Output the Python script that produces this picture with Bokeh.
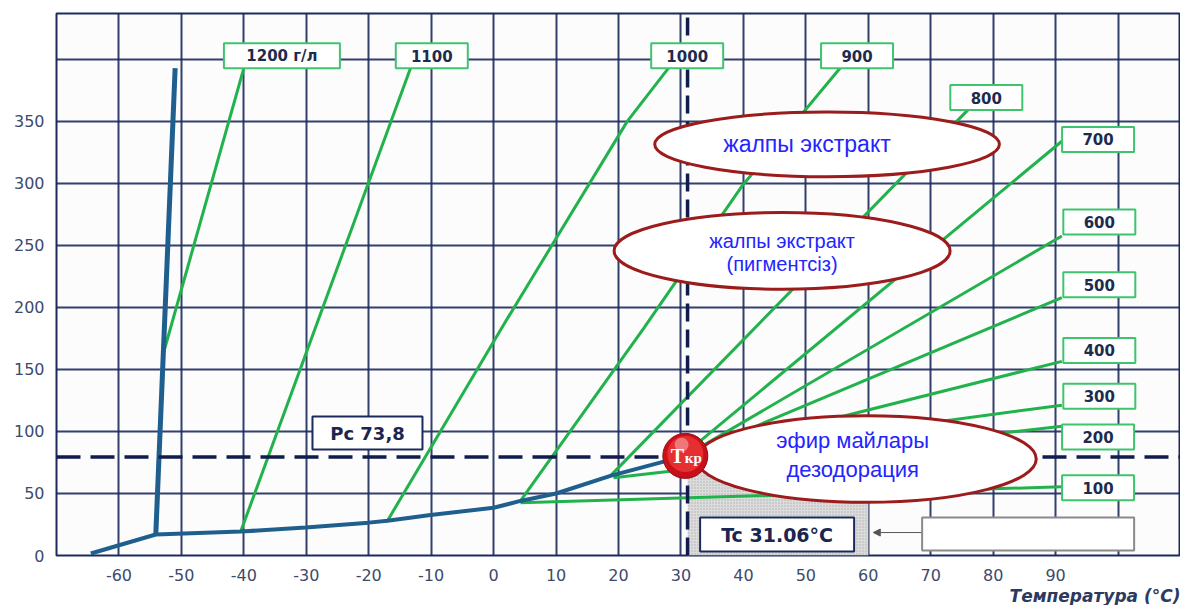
from bokeh.plotting import figure
from bokeh.models import FixedTicker, Title, Arrow, NormalHead, ColumnDataSource
from bokeh.core.properties import value
from bokeh.embed import file_html
from bokeh.resources import INLINE

# ---------------- data ----------------
# saturation (vapour pressure) curve, temperature °C / pressure
sat_T = [-64.5, -54.1, -40.5, -30.1, -20.0, -17.0, -10.1, 0.0, 4.3, 10.0, 18.7, 30.7]
sat_P = [1.6, 16.9, 19.3, 22.5, 26.5, 28.0, 32.6, 38.5, 44.0, 50.0, 64.2, 80.3]
# melting line
melt_T = [-54.1, -51.0]
melt_P = [16.9, 393.0]

# isochores (density lines)
iso_names = ["1200 г/л", "1100", "1000", "900", "800", "700",
             "600", "500", "400", "300", "200", "100"]
iso_T = [
    [-52.8, -40.0],
    [-40.5, -13.3],
    [-17.0, 2.2, 21.4, 28.0],
    [4.3, 24.0, 39.8, 55.5],
    [18.7, 76.0],
    [30.6, 91.0],
    [30.7, 91.0],
    [30.7, 91.0],
    [30.7, 91.0],
    [30.7, 91.0],
    [19.2, 91.0],
    [4.3, 91.0],
]
iso_P = [
    [164.5, 393.0],
    [19.3, 393.0],
    [28.0, 191.0, 350.0, 393.0],
    [44.0, 183.0, 298.0, 393.0],
    [64.2, 359.5],
    [82.0, 334.0],
    [80.3, 257.6],
    [80.3, 207.9],
    [80.3, 156.5],
    [80.3, 121.2],
    [62.6, 104.3],
    [42.5, 55.4],
]
# label-box anchor points for the isochores
lab_T = [-33.9, -9.9, 31.0, 58.2, 78.9, 96.8, 97.0, 97.0, 97.0, 97.0, 96.8, 96.8]
lab_P = [402.9, 402.9, 402.9, 402.9, 369.2, 335.5, 268.9, 218.3, 165.3, 128.4, 95.5, 54.6]

# critical point
Tc = 31.06
Tc_text = "Tc 31.06°C"
Pc_text = "Pc 73,8"
Pc_line = 79.5
Tkr_T = 30.7
Tkr_P = 80.3

# region ellipses
ell_T = [53.4, 46.2, 59.7]
ell_P = [331.5, 245.6, 77.8]
ell_W = [55.2, 53.8, 54.4]
ell_H = [52.2, 61.8, 69.8]

x_ticks = list(range(-70, 101, 10))
y_ticks = list(range(0, 401, 50))
x_labels = {t: ("" if t in (-70, 100) else str(t)) for t in x_ticks}
y_labels = {t: ("" if t == 400 else str(t)) for t in y_ticks}
x_min, x_max = -70, 110
y_min, y_max = 0, 437

NAVY = "#1c2b5c"
GREEN = "#22b24c"
BLUE = "#1f5f8e"
TXT = "#3c4a6c"

p = figure(width=1180, height=605, x_range=(x_min, x_max), y_range=(y_min, y_max),
           output_backend="svg", toolbar_location=None,
           min_border_left=56, min_border_right=0, min_border_top=13, min_border_bottom=47)
p.background_fill_color = "#fcfcfd"
p.border_fill_color = "white"
p.outline_line_color = NAVY
p.outline_line_width = 2

for ax, ticks, ov in ((p.xaxis, x_ticks, x_labels), (p.yaxis, y_ticks, y_labels)):
    ax.ticker = FixedTicker(ticks=ticks)
    ax.major_label_overrides = ov
    ax.major_tick_line_color = None
    ax.minor_tick_line_color = None
    ax.axis_line_color = None
    ax.major_label_text_font = "DejaVu Sans"
    ax.major_label_text_font_size = "16px"
    ax.major_label_text_color = TXT
p.xaxis.major_label_standoff = 7
p.yaxis.major_label_standoff = 6

p.grid.grid_line_color = NAVY
p.grid.grid_line_width = 2
p.grid.grid_line_alpha = 0.9

# axis title (bottom right)
p.add_layout(Title(text="Температура (°C)", align="right", standoff=0,
                   text_font="DejaVu Sans", text_font_style="bold italic",
                   text_font_size="17px", text_color="#2c3a60"), "below")

# grey supercritical zone under the critical point
p.quad(left=[Tc], right=[60], bottom=[0], top=[Pc_line - 6], fill_color="#dcdcdc",
       hatch_pattern="dot", hatch_color="#9a9a9a", hatch_scale=3, hatch_alpha=0.7,
       line_color=None)

# isochores
for T, P in zip(iso_T, iso_P):
    p.line(T, P, line_color=GREEN, line_width=3)

# phase curves
p.line(sat_T, sat_P, line_color=BLUE, line_width=4)
p.line(melt_T, melt_P, line_color=BLUE, line_width=5)

# dashed critical lines
p.line([x_min, x_max], [Pc_line, Pc_line], line_color="#0f1c4d", line_width=3.5, line_dash="24 10")
p.line([Tc, Tc], [y_min, y_max], line_color="#0f1c4d", line_width=3.5, line_dash="18 8")

# isochore label boxes
box_w = [116] + [72] * 11
src = ColumnDataSource(dict(x=lab_T, y=lab_P, w=box_w, t=iso_names))
p.rect(x="x", y="y", width="w", height=25, width_units="screen", height_units="screen",
       source=src, fill_color="white", line_color="#3fc46e", line_width=2)
p.text(x="x", y="y", text="t", source=src, text_align="center", text_baseline="middle",
       text_font=value("DejaVu Sans"), text_font_style="bold", text_font_size="15px",
       text_color="#1d2b4f")

# ellipses
p.ellipse(x=ell_T, y=ell_P, width=ell_W, height=ell_H, fill_color="white",
          line_color="#9c1b1b", line_width=3)
ELL_BLUE = "#2424ff"
p.text(x=[50.7], y=[331.5], text=["жалпы  экстракт"], text_align="center", text_baseline="middle",
       text_font=value("Liberation Sans"), text_font_size="23px", text_color=ELL_BLUE)
p.text(x=[46.2, 46.2], y=[253.5, 235.0], text=["жалпы экстракт", "(пигментсіз)"],
       text_align="center", text_baseline="middle",
       text_font=value("Liberation Sans"), text_font_size="20px", text_color=ELL_BLUE)
p.text(x=[57.5, 57.5], y=[93.0, 69.0], text=["эфир майлары", "дезодорация"],
       text_align="center", text_baseline="middle",
       text_font=value("Liberation Sans"), text_font_size="22px", text_color=ELL_BLUE)

# critical point marker
p.scatter([Tkr_T], [Tkr_P], size=45, fill_color="#c8101a", line_color="#9a0a10", line_width=1)
p.scatter([Tkr_T], [Tkr_P + 1.5], size=36, fill_color="#f03a3a", line_color=None, fill_alpha=0.75)
p.scatter([Tkr_T - 0.6], [Tkr_P + 9], marker="circle", size=14, fill_color="white",
          line_color=None, fill_alpha=0.35)
p.text(x=[Tkr_T], y=[Tkr_P], text=["T"], x_offset=-8, text_align="center", text_baseline="middle",
       text_font=value("Liberation Serif"), text_font_style="bold", text_font_size="20px",
       text_color="white")
p.text(x=[Tkr_T], y=[Tkr_P], text=["кр"], x_offset=8, y_offset=2, text_align="center",
       text_baseline="middle", text_font=value("Liberation Serif"), text_font_style="bold",
       text_font_size="15px", text_color="white")

# Pc and Tc boxes
p.rect(x=[-20.2], y=[98.7], width=110, height=33, width_units="screen", height_units="screen",
       fill_color="white", line_color=NAVY, line_width=2)
p.text(x=[-20.2], y=[98.7], text=[Pc_text], text_align="center", text_baseline="middle",
       text_font=value("DejaVu Sans"), text_font_style="bold", text_font_size="18px",
       text_color="#1a2550")
p.rect(x=[45.4], y=[16.9], width=154, height=34, width_units="screen", height_units="screen",
       fill_color="white", line_color=NAVY, line_width=2)
p.text(x=[45.4], y=[16.9], text=[Tc_text], text_align="center", text_baseline="middle",
       text_font=value("DejaVu Sans"), text_font_style="bold", text_font_size="19px",
       text_color="#1a2550")

# empty note box with arrow
p.rect(x=[85.6], y=[17.3], width=212, height=33, width_units="screen", height_units="screen",
       fill_color="white", line_color="#8a8a8a", line_width=2)
p.add_layout(Arrow(end=NormalHead(size=7, fill_color="#555555", line_color="#555555"),
                   x_start=68.5, y_start=18.5, x_end=60.8, y_end=18.5,
                   line_color="#555555", line_width=1))

open("out.html", "w").write(file_html(p, INLINE))
